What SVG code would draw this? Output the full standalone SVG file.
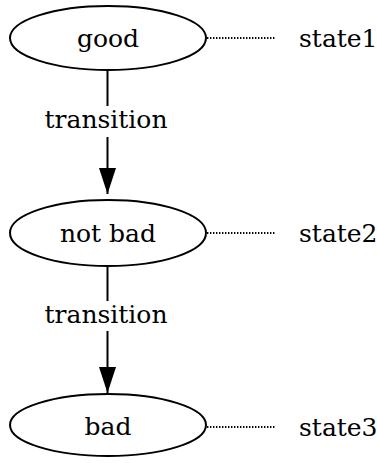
<svg xmlns="http://www.w3.org/2000/svg" width="377" height="463" viewBox="0 0 377 463">
<defs>
<style>
text{font-family:"DejaVu Serif","Liberation Serif",serif;font-size:25px;fill:#000}
.node ellipse{fill:none;stroke:#000;stroke-width:2}
.edge line{stroke:#000;stroke-width:2}
.dot{stroke:#000;stroke-width:1.4;stroke-dasharray:1.4 1.6}
</style>
<marker id="ah" markerWidth="26" markerHeight="17" refX="26" refY="8.5" orient="auto" markerUnits="userSpaceOnUse" viewBox="0 0 26 17">
<path d="M0,0 L26,8.5 L0,17 Z" fill="#000"/>
</marker>
</defs>
<rect width="377" height="463" fill="#fff"/>
<g id="connectors" class="edge">
<line x1="107.5" y1="71" x2="107.5" y2="106"/>
<line x1="107.5" y1="137" x2="107.5" y2="194" marker-end="url(#ah)"/>
<line x1="107.5" y1="266" x2="107.5" y2="301"/>
<line x1="107.5" y1="331" x2="107.5" y2="393" marker-end="url(#ah)"/>
<text x="106" y="128" text-anchor="middle">transition</text>
<text x="106" y="323" text-anchor="middle">transition</text>
<line class="dot" x1="207" y1="38" x2="276" y2="38"/>
<line class="dot" x1="207" y1="233" x2="276" y2="233"/>
<line class="dot" x1="207" y1="427" x2="276" y2="427"/>
</g>
<g id="good" class="node">
<ellipse cx="108" cy="38" rx="98" ry="32"/>
<text x="108" y="47" text-anchor="middle">good</text>
</g>
<g id="notbad" class="node">
<ellipse cx="108" cy="233" rx="98" ry="33"/>
<text x="108" y="242" text-anchor="middle">not bad</text>
</g>
<g id="bad" class="node">
<ellipse cx="108" cy="425" rx="98" ry="31"/>
<text x="108" y="435" text-anchor="middle">bad</text>
</g>
<g id="state1"><text x="299" y="47">state1</text></g>
<g id="state2"><text x="299" y="242">state2</text></g>
<g id="state3"><text x="299" y="436">state3</text></g>
</svg>
